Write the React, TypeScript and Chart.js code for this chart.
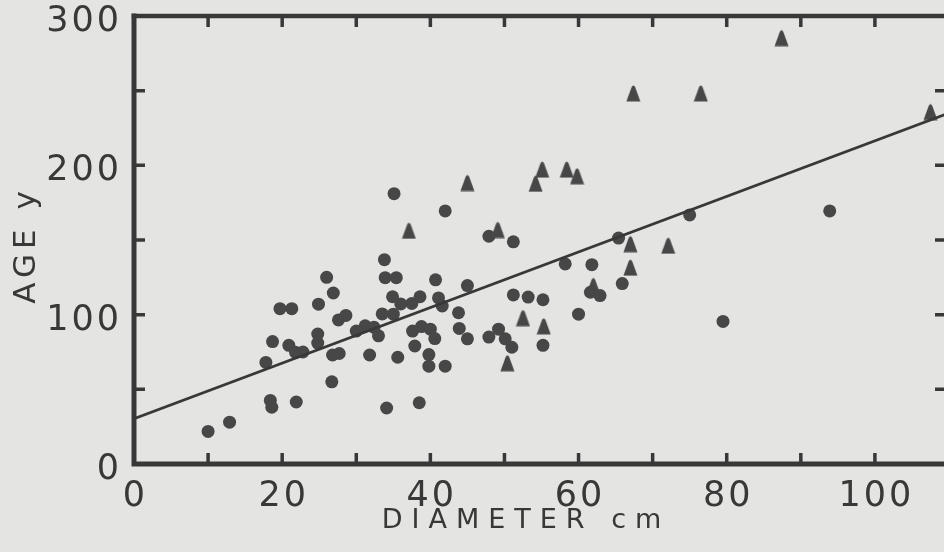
import React, { useEffect, useRef } from "react";
import { Chart, registerables } from "chart.js";

Chart.register(...registerables);

// ---- data ----
const CIRCLE_X = [
  10.0, 12.9, 18.4, 18.6, 21.9, 26.7, 34.1, 38.5,
  17.8, 18.7, 19.7, 21.3, 20.9, 21.8, 22.8,
  24.8, 24.8, 24.9, 26.9, 26.0, 27.6, 28.6, 26.8, 27.7,
  30.0, 31.2, 32.4, 33.0, 31.8, 35.6,
  33.5, 35.0, 34.9, 36.0, 37.5, 38.6,
  37.6, 38.8, 40.0, 40.6, 37.9, 39.8, 39.8, 42.0,
  33.8, 33.9, 35.4, 40.7, 41.1, 41.6, 45.0, 43.8, 43.9, 45.0,
  35.1, 42.0, 47.9, 51.2, 58.2, 61.8,
  51.2, 53.2, 55.2, 61.6, 62.9, 60.0, 55.2,
  47.9, 49.2, 50.1, 51.0, 65.4, 65.9, 75.0, 79.5, 93.9,
];
const CIRCLE_Y = [
  21.8, 28, 42.6, 38, 41.5, 55, 37.5, 41,
  68, 82, 104, 104, 79.5, 74.8, 75,
  87, 81, 107, 114.5, 125, 96.5, 99.5, 73, 74,
  89, 92.5, 91.5, 85.8, 73, 71.5,
  100.5, 100.3, 112, 107.2, 107.5, 112,
  89, 92, 90.3, 84, 79, 73.3, 65.5, 65.5,
  136.8, 124.8, 124.8, 123.3, 111.2, 105.8, 119.5, 101.3, 90.8, 83.8,
  181, 169.5, 152.5, 148.8, 134, 133.5,
  113.2, 111.8, 110, 115, 112.8, 100.3, 79.5,
  85, 90.3, 83.8, 78.2, 151.3, 120.8, 166.8, 95.5, 169.5,
];
const TRI_X = [
  37.1, 45.0, 49.1, 54.2, 55.1, 58.4, 59.8, 52.5, 55.3,
  50.4, 62.0, 67.0, 72.1, 67.0, 67.4, 76.5, 87.4, 107.5,
];
const TRI_Y = [
  156.5, 188.5, 157, 188, 197.5, 197.5, 193, 98, 92.5,
  67.8, 119.5, 147.5, 146.5, 131.8, 248.5, 248.5, 285.5, 236,
];
const LINE_X = [0, 110];
const LINE_Y = [30.3, 235];

const X_TICK_LABELS = [0, 20, 40, 60, 80, 100];
const X_MINOR_TICKS = [10, 20, 30, 40, 50, 60, 70, 80, 90, 100];
const Y_TICK_LABELS = [0, 100, 200, 300];
const Y_MINOR_TICKS = [50, 100, 150, 200, 250];
const X_TITLE = "DIAMETER cm";
const Y_TITLE = "AGE y";

const PAPER = "#e4e4e2";
const INK = "#383838";
const DOT = "#474747";
const TICK_SPACING = 3;

export default function App() {
  const ref = useRef<HTMLCanvasElement | null>(null);

  useEffect(() => {
    if (!ref.current) return;

    const tri = document.createElement("canvas");
    tri.width = 15;
    tri.height = 18;
    const tc = tri.getContext("2d")!;
    tc.fillStyle = DOT;
    tc.beginPath();
    tc.moveTo(0.5, 17.5);
    tc.lineTo(14.5, 17.5);
    tc.lineTo(9.2, 3);
    tc.quadraticCurveTo(7.5, 0, 5.8, 3);
    tc.closePath();
    tc.fill();

    const framePlugin = {
      id: "frame",
      beforeDraw(chart: any) {
        (chart.ctx as any).letterSpacing = TICK_SPACING + "px";
      },
      beforeDatasetsDraw(chart: any) {
        const { ctx, chartArea: a, scales } = chart;
        const xs = scales.x;
        const ys = scales.y;
        ctx.save();
        ctx.strokeStyle = INK;
        ctx.lineCap = "square";
        ctx.lineWidth = 5;
        ctx.beginPath();
        ctx.moveTo(a.left, a.top);
        ctx.lineTo(a.left, a.bottom);
        ctx.lineTo(a.right, a.bottom);
        ctx.lineTo(a.right, a.top);
        ctx.stroke();
        ctx.lineWidth = 4.5;
        ctx.beginPath();
        ctx.moveTo(a.left, a.top);
        ctx.lineTo(a.right, a.top);
        ctx.stroke();
        ctx.lineCap = "butt";
        ctx.lineWidth = 3.5;
        ctx.beginPath();
        for (const v of X_MINOR_TICKS) {
          const px = xs.getPixelForValue(v);
          ctx.moveTo(px, a.bottom);
          ctx.lineTo(px, a.bottom - 11);
          ctx.moveTo(px, a.top);
          ctx.lineTo(px, a.top + 11);
        }
        for (const v of Y_MINOR_TICKS) {
          const py = ys.getPixelForValue(v);
          ctx.moveTo(a.left, py);
          ctx.lineTo(a.left + 11, py);
          ctx.moveTo(a.right, py);
          ctx.lineTo(a.right - 14, py);
        }
        ctx.stroke();
        ctx.restore();
      },
      afterDraw(chart: any) {
        const { ctx, chartArea: a } = chart;
        ctx.save();
        ctx.fillStyle = INK;
        ctx.textAlign = "center";
        ctx.textBaseline = "middle";
        (ctx as any).letterSpacing = "9px";
        ctx.font = "27px 'DejaVu Sans'";
        ctx.fillText(X_TITLE, 526, 521);
        ctx.translate(27, (a.top + a.bottom) / 2 + 5);
        ctx.rotate(-Math.PI / 2);
        (ctx as any).letterSpacing = "5px";
        ctx.font = "31px 'DejaVu Sans'";
        ctx.fillText(Y_TITLE, 0, 0);
        ctx.restore();
      },
    };

    const chart = new Chart(ref.current, {
      type: "scatter",
      data: {
        datasets: [
          {
            label: "line",
            type: "line",
            data: LINE_X.map((x, i) => ({ x, y: LINE_Y[i] })),
            borderColor: INK,
            borderWidth: 2.6,
            pointRadius: 0,
            fill: false,
          },
          {
            label: "circles",
            data: CIRCLE_X.map((x, i) => ({ x, y: CIRCLE_Y[i] })),
            pointStyle: "circle",
            pointRadius: 6.5,
            backgroundColor: DOT,
            borderWidth: 0,
          },
          {
            label: "triangles",
            data: TRI_X.map((x, i) => ({ x, y: TRI_Y[i] })),
            pointStyle: tri as any,
            pointRadius: 8,
            backgroundColor: DOT,
            borderWidth: 0,
          },
        ],
      } as any,
      options: {
        animation: false,
        responsive: false,
        events: [],
        layout: { padding: { left: 0, top: 16, right: 11, bottom: 0 } },
        plugins: { legend: { display: false }, tooltip: { enabled: false } },
        scales: {
          x: {
            type: "linear",
            min: 0,
            max: 110,
            grid: { display: false, drawTicks: false },
            border: { display: false },
            afterBuildTicks: (s: any) => {
              s.ticks = X_TICK_LABELS.map((v) => ({ value: v }));
            },
            afterFit: (s: any) => {
              s.height = 88;
              s.paddingLeft = 0;
              s.paddingRight = 0;
            },
            ticks: {
              padding: 12,
              color: INK,
              font: { family: "'DejaVu Sans'", size: 35 },
              labelOffset: TICK_SPACING / 2,
              maxRotation: 0,
              autoSkip: false,
            },
          },
          y: {
            type: "linear",
            min: 0,
            max: 300,
            grid: { display: false, drawTicks: false },
            border: { display: false },
            afterBuildTicks: (s: any) => {
              s.ticks = Y_TICK_LABELS.map((v) => ({ value: v }));
            },
            afterFit: (s: any) => {
              s.width = 134;
              s.paddingTop = 0;
              s.paddingBottom = 0;
            },
            ticks: {
              padding: 12,
              color: INK,
              font: { family: "'DejaVu Sans'", size: 35 },
              labelOffset: 6,
              autoSkip: false,
            },
          },
        },
      } as any,
      plugins: [framePlugin],
    });

    return () => chart.destroy();
  }, []);

  return (
    <div
      style={{
        position: "fixed",
        left: 0,
        top: 0,
        width: 944,
        height: 552,
        overflow: "hidden",
        background: PAPER,
      }}
    >
      <canvas ref={ref} width={960} height={552} style={{ width: 960, height: 552, display: "block" }} />
    </div>
  );
}
